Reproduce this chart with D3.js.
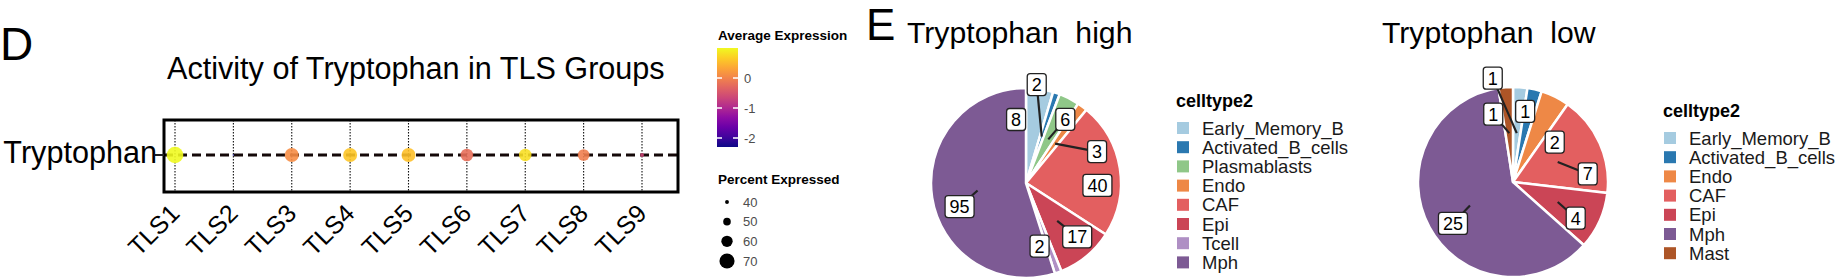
<!DOCTYPE html>
<html>
<head>
<meta charset="utf-8">
<script src="https://cdn.jsdelivr.net/npm/d3@7"></script>
<style>
  html, body { margin: 0; padding: 0; background: #fff; }
  svg { display: block; font-family: "Liberation Sans", Arial, Helvetica, sans-serif; }
  .pre { white-space: pre; }
</style>
</head>
<body>
<svg id="chart" width="1838" height="278"></svg>
<script>
/* panel D : dot plot data */
var tlsGroups = ['TLS1','TLS2','TLS3','TLS4','TLS5','TLS6','TLS7','TLS8','TLS9'];
var avgExp = [1.0, -2.3, 0.1, 0.6, 0.55, -0.2, 0.8, -0.05, -0.65];
var pctExp = [74, 34, 67, 67, 67, 63.5, 63, 61, 40];
var colorTicks = [0, -1, -2];
var sizeBreaks = [40, 50, 60, 70];

/* panel E : pie data */
var typesHigh = ['Early_Memory_B','Activated_B_cells','Plasmablasts','Endo','CAF','Epi','Tcell','Mph'];
var countsHigh = [8, 2, 6, 3, 40, 17, 2, 95];
var typesLow = ['Early_Memory_B','Activated_B_cells','Endo','CAF','Epi','Mph','Mast'];
var countsLow = [1, 1, 2, 7, 4, 25, 1];

var cellColors = {
	'Early_Memory_B':'#a5cbe0', 'Activated_B_cells':'#2a78b0', 'Plasmablasts':'#8fc788',
	'Endo':'#ee8846', 'CAF':'#e35f60', 'Epi':'#cb4556', 'Tcell':'#af8fc4',
	'Mph':'#7d5a94', 'Mast':'#ad5527'
};

// label nudges (ggrepel style offsets from the slice anchor), layout only
var nudgeHigh = [[-17,-15,0],[-5,-52,1],[17,-20,1],[42,8,1],[23,10,0],[20,16,1],[-3,17,0],[-18,16,1]];
var nudgeLow = [[-24,-55,1],[1,-23,0],[20,4,0],[30,12,1],[18,16,1],[-17,18,1],[-16,-19,1]];

var svg = d3.select('#chart');

/* ---------- panel D ---------- */
svg.append('text').attr('x', 0).attr('y', 60).attr('font-size', 46).text('D');
svg.append('text').attr('x', 167).attr('y', 79).attr('font-size', 30.6)
	.text('Activity of Tryptophan in TLS Groups');

var xDot = d3.scalePoint().domain(tlsGroups).range([175, 642]);
var boxL = 164, boxR = 678, boxT = 120, boxB = 192, rowY = 155;
var colorScale = d3.scaleSequential(d3.interpolatePlasma).domain(d3.extent(avgExp));
var rScale = d3.scaleLinear().domain([34, 74]).range([0.8, 8.3]);

var dotG = svg.append('g');
dotG.selectAll('line.vgrid')
	.data(tlsGroups)
	.enter()
	.append('line')
	.attr('class', 'vgrid')
	.attr('x1', function(d){ return xDot(d); })
	.attr('x2', function(d){ return xDot(d); })
	.attr('y1', boxT).attr('y2', boxB)
	.attr('stroke', '#111').attr('stroke-width', 1.1)
	.attr('stroke-dasharray', '1.5,1.5');
dotG.append('line')
	.attr('x1', boxL).attr('x2', boxR).attr('y1', rowY).attr('y2', rowY)
	.attr('stroke', '#140808').attr('stroke-width', 3)
	.attr('stroke-dasharray', '9,5');
dotG.selectAll('circle')
	.data(tlsGroups)
	.enter()
	.append('circle')
	.attr('cx', function(d){ return xDot(d); })
	.attr('cy', rowY)
	.attr('r', function(d, i){ return rScale(pctExp[i]); })
	.attr('fill', function(d, i){ return colorScale(avgExp[i]); })
	.attr('fill-opacity', 0.9);
dotG.append('rect')
	.attr('x', boxL).attr('y', boxT).attr('width', boxR - boxL).attr('height', boxB - boxT)
	.attr('fill', 'none').attr('stroke', '#000').attr('stroke-width', 3);
dotG.append('line')
	.attr('x1', boxL - 9).attr('x2', boxL).attr('y1', rowY).attr('y2', rowY)
	.attr('stroke', '#222').attr('stroke-width', 2);
dotG.append('text')
	.attr('x', boxL - 7).attr('y', rowY + 8)
	.attr('text-anchor', 'end').attr('font-size', 30.6)
	.text('Tryptophan');
dotG.selectAll('text.tick')
	.data(tlsGroups)
	.enter()
	.append('text')
	.attr('class', 'tick')
	.attr('font-size', 25)
	.attr('text-anchor', 'end')
	.attr('transform', function(d){ return 'translate(' + (xDot(d) + 6) + ',' + 215 + ') rotate(-45)'; })
	.text(function(d){ return d; });

/* colour legend */
var legX = 718;
svg.append('text').attr('x', legX).attr('y', 40).attr('font-size', 13.5)
	.attr('font-weight', 'bold').text('Average Expression');
var grad = svg.append('defs').append('linearGradient')
	.attr('id', 'plasma').attr('x1', 0).attr('y1', 1).attr('x2', 0).attr('y2', 0);
d3.range(0, 1.0001, 0.1).forEach(function(t){
	grad.append('stop').attr('offset', t).attr('stop-color', d3.interpolatePlasma(t));
});
var barY = d3.scaleLinear().domain(d3.extent(avgExp)).range([147, 48]);
svg.append('rect').attr('x', 717).attr('y', 48).attr('width', 21).attr('height', 99)
	.attr('fill', 'url(#plasma)');
var tickG = svg.append('g').selectAll('g')
	.data(colorTicks)
	.enter()
	.append('g')
	.attr('transform', function(d){ return 'translate(0,' + barY(d) + ')'; });
tickG.append('line').attr('x1', 717).attr('x2', 722).attr('stroke', '#fff').attr('stroke-width', 1.5);
tickG.append('line').attr('x1', 733).attr('x2', 738).attr('stroke', '#fff').attr('stroke-width', 1.5);
tickG.append('text').attr('x', 744).attr('dy', '0.35em').attr('font-size', 13)
	.attr('fill', '#4d4d4d').text(function(d){ return d; });

/* size legend */
svg.append('text').attr('x', legX).attr('y', 184).attr('font-size', 13.5)
	.attr('font-weight', 'bold').text('Percent Expressed');
var sizeY = d3.scalePoint().domain(sizeBreaks).range([202, 261]);
var sizeG = svg.append('g').selectAll('g')
	.data(sizeBreaks)
	.enter()
	.append('g')
	.attr('transform', function(d){ return 'translate(0,' + sizeY(d) + ')'; });
sizeG.append('circle').attr('cx', 727).attr('r', function(d){ return rScale(d); }).attr('fill', '#000');
sizeG.append('text').attr('x', 743).attr('dy', '0.35em').attr('font-size', 13)
	.attr('fill', '#4d4d4d').text(function(d){ return d; });

/* ---------- panel E ---------- */
svg.append('text').attr('x', 866).attr('y', 40).attr('font-size', 44).text('E');

function drawPie(types, counts, nudges, cx, cy, title, titleX, legendX, legendY){
	svg.append('text').attr('class', 'pre').attr('x', titleX).attr('y', 43)
		.attr('font-size', 30.2).text(title);
	var R = 95;
	var rows = types.map(function(t, i){ return {type: t, value: counts[i], nudge: nudges[i]}; });
	var arcs = d3.pie().sort(null).value(function(d){ return d.value; })(rows);
	var arc = d3.arc().innerRadius(0).outerRadius(R);
	var g = svg.append('g').attr('transform', 'translate(' + cx + ',' + cy + ')');
	g.selectAll('path')
		.data(arcs)
		.enter()
		.append('path')
		.attr('d', arc)
		.attr('fill', function(d){ return cellColors[d.data.type]; })
		.attr('stroke', '#fff').attr('stroke-width', 2.5).attr('stroke-linejoin', 'round');
	var aR = 49;
	arcs.forEach(function(d){
		var m = (d.startAngle + d.endAngle) / 2;
		d.ax = aR * Math.sin(m);
		d.ay = -aR * Math.cos(m);
		d.lx = d.ax + d.data.nudge[0];
		d.ly = d.ay + d.data.nudge[1];
	});
	g.selectAll('line.seg')
		.data(arcs.filter(function(d){ return d.data.nudge[2]; }))
		.enter()
		.append('line')
		.attr('class', 'seg')
		.attr('x1', function(d){ return d.ax; }).attr('y1', function(d){ return d.ay; })
		.attr('x2', function(d){ return d.lx; }).attr('y2', function(d){ return d.ly; })
		.attr('stroke', '#222').attr('stroke-width', 2.2);
	var lab = g.selectAll('g.lab')
		.data(arcs)
		.enter()
		.append('g')
		.attr('class', 'lab')
		.attr('transform', function(d){ return 'translate(' + d.lx + ',' + d.ly + ')'; });
	lab.append('rect')
		.attr('x', function(d){ var w = String(d.data.value).length * 10 + 9; return -w / 2; })
		.attr('width', function(d){ return String(d.data.value).length * 10 + 9; })
		.attr('y', -11).attr('height', 22).attr('rx', 3)
		.attr('fill', '#fff').attr('stroke', '#222').attr('stroke-width', 1.3);
	lab.append('text')
		.attr('text-anchor', 'middle').attr('dy', '0.36em').attr('font-size', 18)
		.text(function(d){ return d.data.value; });

	svg.append('text').attr('x', legendX - 1).attr('y', legendY).attr('font-size', 18)
		.attr('font-weight', 'bold').text('celltype2');
	var legY = d3.scalePoint().domain(types).range([legendY + 21, legendY + 21 + 19.2 * (types.length - 1)]);
	var item = svg.append('g').selectAll('g')
		.data(types)
		.enter()
		.append('g')
		.attr('transform', function(d){ return 'translate(' + legendX + ',' + legY(d) + ')'; });
	item.append('rect').attr('x', 0).attr('y', -6).attr('width', 12).attr('height', 12)
		.attr('fill', function(d){ return cellColors[d]; });
	item.append('text').attr('x', 25).attr('dy', '0.36em').attr('font-size', 18.5)
		.attr('fill', '#1a1a1a').text(function(d){ return d; });
}

drawPie(typesHigh, countsHigh, nudgeHigh, 1026, 183, 'Tryptophan  high', 907, 1177, 107);
drawPie(typesLow, countsLow, nudgeLow, 1513, 182, 'Tryptophan  low', 1382, 1664, 117);
</script>
</body>
</html>
